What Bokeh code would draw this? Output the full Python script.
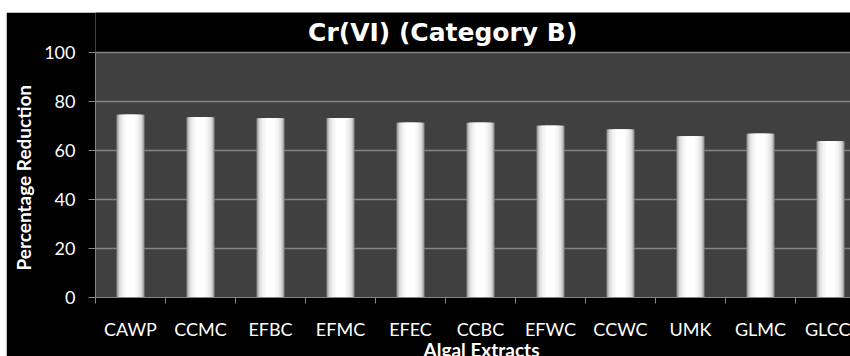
import numpy as np
from bokeh.plotting import figure
from bokeh.models import Range1d, FixedTicker, Label, BoxAnnotation, Title
from bokeh.embed import file_html
from bokeh.resources import INLINE

# ---- data ----
categories = ["CAWP", "CCMC", "EFBC", "EFMC", "EFEC", "CCBC", "EFWC", "CCWC", "UMK", "GLMC", "GLCC"]
reduction = [74.6, 73.6, 73.2, 73.3, 71.3, 71.3, 70.1, 68.6, 65.8, 66.8, 63.8]
y_ticks = [0, 20, 40, 60, 80, 100]
title_text = "Cr(VI) (Category B)"
x_title = "Algal Extracts"
y_title = "Percentage Reduction"

# ---- layout constants ----
FIG_W, FIG_H = 844, 344
FRAME_LEFT, FRAME_BOTTOM_BORDER = 89, 59
PLOT_TOP_PX = 40          # gap between figure top and the value 100
SLOT_PX = 70
frame_w = FIG_W - FRAME_LEFT
frame_h = FIG_H - FRAME_BOTTOM_BORDER
x_end = frame_w / SLOT_PX
px_per_unit = (frame_h - PLOT_TOP_PX) / 100
y_end = 100 + PLOT_TOP_PX / px_per_unit
FONT = "Lato"

centers = [i + 0.5 for i in range(len(categories))]
bounds = list(range(0, len(categories) + 1))

p = figure(width=FIG_W, height=FIG_H,
           x_range=Range1d(0, x_end), y_range=Range1d(0, y_end),
           output_backend="svg", toolbar_location=None,
           min_border_left=FRAME_LEFT, min_border_right=0,
           min_border_top=0, min_border_bottom=FRAME_BOTTOM_BORDER)
p.margin = (12, 0, 0, 6)
p.background_fill_color = "black"
p.border_fill_color = "black"
p.outline_line_color = None

# grey plot area (0..100)
p.add_layout(BoxAnnotation(bottom=0, top=100, fill_color="#404040", fill_alpha=1,
                           line_color=None, level="image"))

# cylinder-like bars built from layered vbars
bar_w = 0.4
layers = [(1.00, "#8a8a8a"), (0.93, "#b8b8b8"), (0.84, "#d6d6d6"),
          (0.72, "#e9e9e9"), (0.56, "#f6f6f6"), (0.36, "#ffffff")]
for frac, col in layers:
    p.vbar(x=centers, top=reduction, bottom=0, width=bar_w * frac,
           fill_color=col, line_color=None)

# grid
p.xgrid.visible = False
p.ygrid.ticker = FixedTicker(ticks=y_ticks)
p.ygrid.grid_line_color = "#858585"
p.ygrid.grid_line_width = 1.5

# y axis
ya = p.yaxis[0]
ya.ticker = FixedTicker(ticks=y_ticks)
ya.bounds = (0, 100)
ya.axis_line_color = "#858585"
ya.major_tick_line_color = "#858585"
ya.major_tick_out = 7
ya.major_tick_in = 0
ya.minor_tick_line_color = None
ya.major_label_text_color = "white"
ya.major_label_text_font = FONT
ya.major_label_text_font_size = "18px"
ya.major_label_standoff = 13

# y-axis title, centred on the grey area rather than the whole frame
p.add_layout(Title(text=y_title, align="left", offset=27, vertical_align="top",
                   standoff=10, text_color="white", text_font=FONT,
                   text_font_style="bold", text_font_size="19px"), "left")

# x axis
xa = p.xaxis[0]
xa.ticker = FixedTicker(ticks=centers, minor_ticks=bounds)
xa.major_label_overrides = {c: name for c, name in zip(centers, categories)}
xa.axis_line_color = "#858585"
xa.major_tick_line_color = None
xa.major_tick_out = 0
xa.major_tick_in = 0
xa.minor_tick_line_color = "#858585"
xa.minor_tick_out = 6
xa.minor_tick_in = 0
xa.major_label_text_color = "white"
xa.major_label_text_font = FONT
xa.major_label_text_font_size = "18px"
xa.major_label_standoff = 14

# x-axis title as a below Title that may overflow the bottom edge
p.add_layout(Title(text=x_title, align="left", offset=328, vertical_align="bottom",
                   standoff=-14, text_color="white", text_font=FONT,
                   text_font_style="bold", text_font_size="19px"), "below")

# chart title inside the (extended) frame, above the grey area
p.add_layout(Label(x=4.96, y=100 + 20 / px_per_unit, text=title_text, text_align="center",
                   text_baseline="alphabetic", text_color="white",
                   text_font="DejaVu Sans", text_font_style="bold", text_font_size="25px"))

open("out.html", "w").write(file_html(p, INLINE))
